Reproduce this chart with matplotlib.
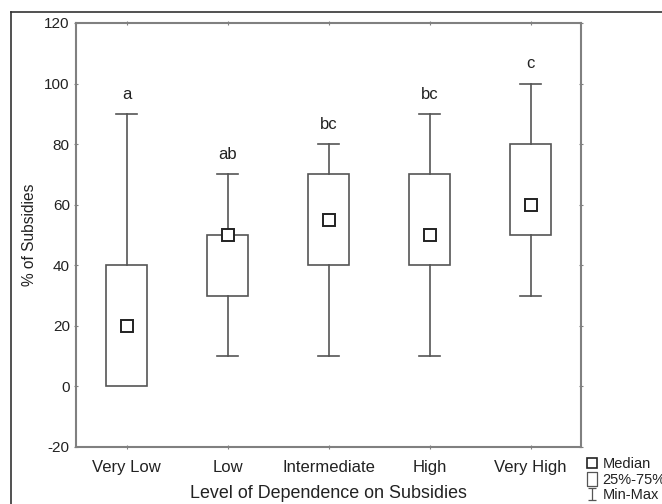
import matplotlib
matplotlib.use('Agg')
import matplotlib.pyplot as plt
from matplotlib.lines import Line2D
from matplotlib.patches import Rectangle
from matplotlib.path import Path

plt.rcParams['font.family'] = ['Liberation Sans', 'DejaVu Sans']
plt.rcParams['axes.unicode_minus'] = False

categories = ['Very Low', 'Low', 'Intermediate', 'High', 'Very High']
mins = [0, 10, 10, 10, 30]
q1 = [0, 30, 40, 40, 50]
medians = [20, 50, 55, 50, 60]
q3 = [40, 50, 70, 70, 80]
maxs = [90, 70, 80, 90, 100]
letters = ['a', 'ab', 'bc', 'bc', 'c']

col_line = '#555555'
col_axis = '#808080'
col_text = '#222222'

fig = plt.figure(figsize=(6.62, 5.04), dpi=100)
ax = fig.add_axes([76 / 662, 57 / 504, 505 / 662, 424 / 504])

box_w = 0.4
cap_w = 0.2
for i, cat in enumerate(categories):
    x = i + 1
    # whiskers
    if maxs[i] > q3[i]:
        ax.plot([x, x], [q3[i], maxs[i]], color=col_line, lw=1.2)
        ax.plot([x - cap_w / 2, x + cap_w / 2], [maxs[i], maxs[i]], color=col_line, lw=1.2)
    if mins[i] < q1[i]:
        ax.plot([x, x], [mins[i], q1[i]], color=col_line, lw=1.2)
        ax.plot([x - cap_w / 2, x + cap_w / 2], [mins[i], mins[i]], color=col_line, lw=1.2)
    ax.add_patch(Rectangle((x - box_w / 2, q1[i]), box_w, q3[i] - q1[i],
                           facecolor='white', edgecolor=col_line, lw=1.2))
    ax.plot(x, medians[i], marker='s', markersize=8, markerfacecolor='white',
            markeredgecolor=col_text, markeredgewidth=1.4)
    ax.text(x, maxs[i] + 4, letters[i], ha='center', va='bottom', fontsize=12, color=col_text)

ax.set_xlim(0.5, 5.5)
ax.set_ylim(-20, 120)
ax.set_yticks(range(-20, 121, 20))
ax.set_xticks(range(1, 6))
ax.set_xticklabels(categories, fontsize=12, color=col_text)
ax.tick_params(axis='y', labelsize=11, labelcolor=col_text, pad=3)
ax.tick_params(axis='x', pad=8)
ax.tick_params(direction='inout', length=3, color=col_axis)
ax.tick_params(top=True, right=True)
for s in ax.spines.values():
    s.set_color(col_axis)
    s.set_linewidth(1.5)

ax.set_ylabel('% of Subsidies', fontsize=11.2, labelpad=5, color=col_text)
ax.set_xlabel('Level of Dependence on Subsidies', fontsize=12.9, labelpad=7, color=col_text)

# outer frame (left and top edges only visible)
fig.add_artist(Line2D([11 / 662, 11 / 662], [0, 1 - 12 / 504], color='#333333', lw=1.2))
fig.add_artist(Line2D([11 / 662, 1], [1 - 12 / 504, 1 - 12 / 504], color='#333333', lw=1.2))

# legend markers
box_marker = Path([(-0.38, -0.5), (0.38, -0.5), (0.38, 0.5), (-0.38, 0.5), (-0.38, -0.5)],
                  [Path.MOVETO, Path.LINETO, Path.LINETO, Path.LINETO, Path.CLOSEPOLY])
i_marker = Path([(-0.4, 0.5), (0.4, 0.5), (0, 0.5), (0, -0.5), (-0.4, -0.5), (0.4, -0.5)],
                [Path.MOVETO, Path.LINETO, Path.MOVETO, Path.LINETO, Path.MOVETO, Path.LINETO])
handles = [
    Line2D([], [], marker='s', linestyle='none', markersize=7, markerfacecolor='white',
           markeredgecolor=col_text, markeredgewidth=1.2),
    Line2D([], [], marker=box_marker, linestyle='none', markersize=10, markerfacecolor='white',
           markeredgecolor=col_line, markeredgewidth=0.9),
    Line2D([], [], marker=i_marker, linestyle='none', markersize=8, markerfacecolor='none',
           markeredgecolor=col_line, markeredgewidth=0.9),
]
fig.legend(handles, ['Median', '25%-75%', 'Min-Max'], loc='upper left',
           bbox_to_anchor=(580 / 662, 1 - 450 / 504), frameon=False, fontsize=10.5,
           handlelength=0.7, handletextpad=0.35, labelspacing=0.1, borderpad=0.0,
           labelcolor=col_text)

fig.savefig('out.png', dpi=100)
